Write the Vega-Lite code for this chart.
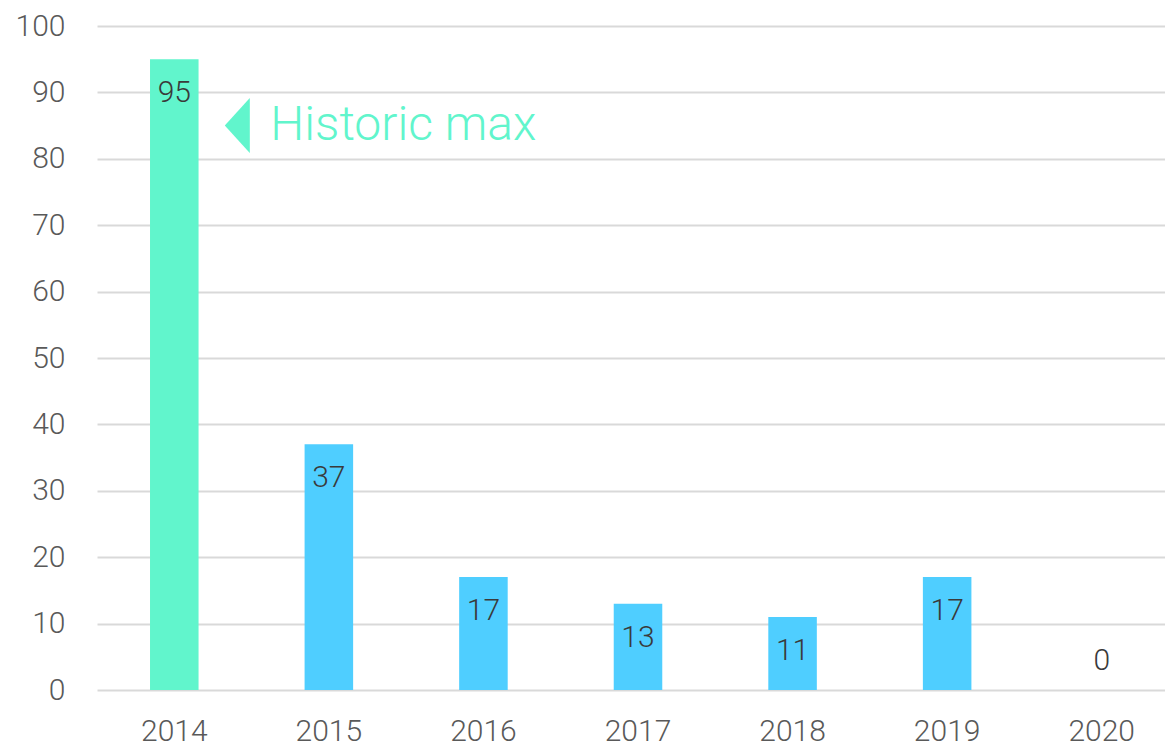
{
  "$schema": "https://vega.github.io/schema/vega-lite/v6.json",
  "width": 1082,
  "height": 664,
  "autosize": {"type": "none"},
  "padding": {"left": 97, "top": 26, "right": 0, "bottom": 58},
  "background": "white",
  "config": {
    "view": {"stroke": null},
    "font": "Roboto"
  },
  "datasets": {
    "bars": [
      {"year": "2014", "value": 95, "group": "max"},
      {"year": "2015", "value": 37, "group": "other"},
      {"year": "2016", "value": 17, "group": "other"},
      {"year": "2017", "value": 13, "group": "other"},
      {"year": "2018", "value": 11, "group": "other"},
      {"year": "2019", "value": 17, "group": "other"},
      {"year": "2020", "value": 0, "group": "other"}
    ],
    "note": [
      {"year": "2014", "value": 85, "label": "Historic max"}
    ]
  },
  "encoding": {
    "x": {
      "field": "year", "type": "nominal",
      "scale": {"paddingInner": 0.686, "paddingOuter": 0.343},
      "axis": {
        "title": null, "labelAngle": 0, "ticks": false, "domain": false,
        "labelFontSize": 30, "labelColor": "#595959", "labelPadding": 26,
        "labelFont": "Roboto", "labelFontWeight": 300
      }
    },
    "y": {
      "field": "value", "type": "quantitative",
      "scale": {"domain": [0, 100]},
      "axis": {
        "title": null, "tickCount": 10, "ticks": false, "domain": false,
        "labelFontSize": 30, "labelColor": "#595959", "labelPadding": 32,
        "gridColor": "#d9d9d9", "gridWidth": 2,
        "labelFont": "Roboto", "labelFontWeight": 300
      }
    }
  },
  "layer": [
    {
      "data": {"name": "bars"},
      "mark": {"type": "bar"},
      "encoding": {
        "color": {
          "field": "group", "type": "nominal",
          "scale": {"domain": ["max", "other"], "range": ["#61F5CC", "#4FCEFF"]},
          "legend": null
        }
      }
    },
    {
      "data": {"name": "bars"},
      "transform": [{"filter": "datum.value > 0"}],
      "mark": {"type": "text", "baseline": "middle", "dy": 34, "fontSize": 30, "color": "#3a3a3a", "font": "Roboto", "fontWeight": 300},
      "encoding": {"text": {"field": "value", "type": "quantitative"}}
    },
    {
      "data": {"name": "bars"},
      "transform": [{"filter": "datum.value == 0"}],
      "mark": {"type": "text", "baseline": "middle", "dy": -29, "fontSize": 30, "color": "#3a3a3a", "font": "Roboto", "fontWeight": 300},
      "encoding": {"text": {"field": "value", "type": "quantitative"}}
    },
    {
      "data": {"name": "note"},
      "mark": {
        "type": "point", "shape": "M0.4545,-1 L-0.4545,0 L0.4545,1 Z",
        "size": 3025, "filled": true, "color": "#61F5CC", "opacity": 1, "xOffset": 63
      },
      "encoding": {}
    },
    {
      "data": {"name": "note"},
      "mark": {
        "type": "text", "align": "left", "baseline": "middle", "dx": 96, "dy": 0,
        "fontSize": 48, "color": "#61F5CC", "font": "Roboto", "fontWeight": 300
      },
      "encoding": {"text": {"field": "label"}}
    }
  ]
}
